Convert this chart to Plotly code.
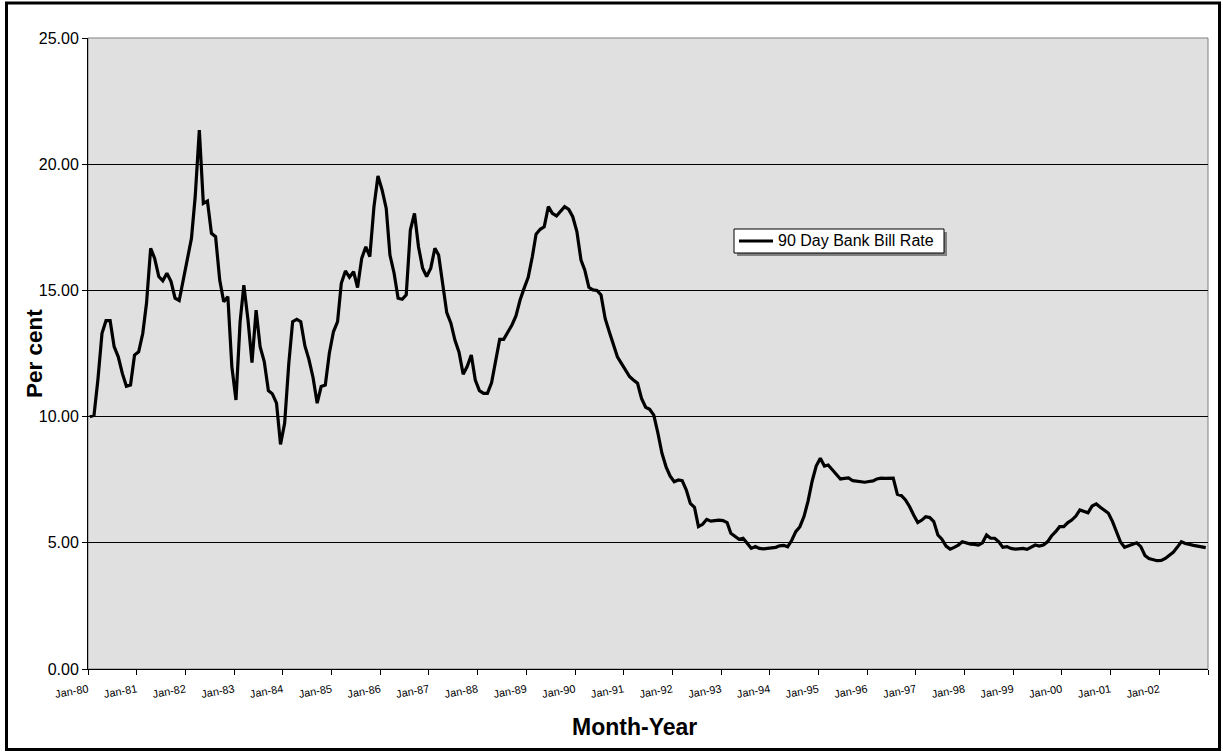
import pandas as pd
import plotly.graph_objects as go

# Monthly 90 day bank bill rate (per cent), Jan 1980 - Dec 2002
rate_1980 = [10.0, 10.05, 11.45, 13.3, 13.8, 13.8, 12.77, 12.37, 11.7, 11.2, 11.25, 12.44]
rate_1981 = [12.57, 13.3, 14.5, 16.67, 16.27, 15.55, 15.38, 15.68, 15.35, 14.69, 14.6, 15.41]
rate_1982 = [16.14, 17.06, 18.71, 21.35, 18.45, 18.54, 17.26, 17.13, 15.41, 14.55, 14.75, 11.98]
rate_1983 = [10.66, 13.76, 15.21, 13.83, 12.14, 14.22, 12.77, 12.18, 11.03, 10.9, 10.53, 8.9]
rate_1984 = [9.73, 12.1, 13.76, 13.85, 13.76, 12.8, 12.27, 11.55, 10.53, 11.19, 11.25, 12.5]
rate_1985 = [13.36, 13.76, 15.28, 15.77, 15.52, 15.74, 15.11, 16.27, 16.73, 16.34, 18.32, 19.53]
rate_1986 = [18.98, 18.25, 16.4, 15.68, 14.69, 14.65, 14.82, 17.39, 18.05, 16.73, 15.88, 15.55]
rate_1987 = [15.88, 16.67, 16.4, 15.15, 14.12, 13.7, 13.03, 12.55, 11.68, 11.98, 12.44, 11.45]
rate_1988 = [11.03, 10.92, 10.92, 11.34, 12.24, 13.06, 13.06, 13.33, 13.63, 13.99, 14.62, 15.08]
rate_1989 = [15.52, 16.34, 17.23, 17.42, 17.52, 18.32, 18.05, 17.95, 18.12, 18.32, 18.21, 17.92]
rate_1990 = [17.33, 16.2, 15.81, 15.12, 15.02, 15.0, 14.82, 13.89, 13.36, 12.9, 12.37, 12.11]
rate_1991 = [11.85, 11.58, 11.45, 11.32, 10.72, 10.37, 10.29, 10.06, 9.34, 8.55, 8.01, 7.65]
rate_1992 = [7.42, 7.49, 7.46, 7.09, 6.56, 6.41, 5.64, 5.73, 5.93, 5.86, 5.88, 5.9]
rate_1993 = [5.88, 5.8, 5.38, 5.24, 5.14, 5.18, 5.0, 4.78, 4.85, 4.78, 4.76, 4.78]
rate_1994 = [4.77, 4.82, 4.88, 4.9, 4.84, 5.1, 5.44, 5.64, 6.05, 6.65, 7.45, 8.04]
rate_1995 = [8.35, 8.04, 8.08, 7.88, 7.69, 7.53, 7.55, 7.57, 7.46, 7.44, 7.41, 7.4]
rate_1996 = [7.43, 7.45, 7.53, 7.56, 7.55, 7.56, 7.56, 6.92, 6.87, 6.7, 6.43, 6.1]
rate_1997 = [5.8, 5.9, 6.03, 6.0, 5.84, 5.31, 5.14, 4.87, 4.75, 4.82, 4.91, 5.04]
rate_1998 = [4.98, 4.95, 4.94, 4.91, 5.0, 5.31, 5.18, 5.18, 5.04, 4.82, 4.85, 4.78]
rate_1999 = [4.75, 4.75, 4.78, 4.74, 4.82, 4.91, 4.87, 4.91, 5.04, 5.27, 5.44, 5.64]
rate_2000 = [5.64, 5.8, 5.9, 6.06, 6.3, 6.23, 6.19, 6.46, 6.54, 6.41, 6.3, 6.17]
rate_2001 = [5.84, 5.4, 5.04, 4.82, 4.87, 4.95, 5.0, 4.85, 4.5, 4.38, 4.33, 4.29]
rate_2002 = [4.3, 4.38, 4.5, 4.62, 4.82, 5.04, 4.97, 4.92, 4.9, 4.87, 4.85, 4.81]

series_name = "90 Day Bank Bill Rate"
tick_years = list(range(1980, 2004))
tick_labels = [f"Jan-{y % 100:02d}" for y in range(1980, 2003)] + [""]
y_ticks = [0, 5, 10, 15, 20, 25]

rates = (rate_1980 + rate_1981 + rate_1982 + rate_1983 + rate_1984 + rate_1985
         + rate_1986 + rate_1987 + rate_1988 + rate_1989 + rate_1990 + rate_1991
         + rate_1992 + rate_1993 + rate_1994 + rate_1995 + rate_1996 + rate_1997
         + rate_1998 + rate_1999 + rate_2000 + rate_2001 + rate_2002)

# each observation sits in the middle of its month
months = pd.date_range("1980-01-01", periods=len(rates), freq="MS") + pd.Timedelta(days=14)

FONT = "Liberation Sans, Arial, sans-serif"
LINE_W = 3.2

fig = go.Figure()
fig.add_trace(go.Scatter(
    x=months, y=rates, mode="lines", name=series_name, showlegend=False,
    line=dict(color="black", width=LINE_W),
))

# plot area geometry in pixels
L, R, T, B = 88, 1208, 38, 669
W, H = R - L, B - T


def px(x):
    return (x - L) / W


def py(y):
    return (B - y) / H


# legend box (drawn as a boxed key with a drop shadow)
LG_X0, LG_X1, LG_Y0, LG_Y1 = 734, 944, 229, 253
LG_MID = (LG_Y0 + LG_Y1) / 2

fig.update_layout(
    width=1223, height=753,
    margin=dict(l=L, r=1223 - R, t=T, b=753 - B),
    paper_bgcolor="white",
    plot_bgcolor="#E0E0E0",
    font=dict(family=FONT, color="black"),
    xaxis=dict(
        type="date",
        range=["1980-01-01", "2003-01-01"],
        tickmode="array",
        tickvals=[f"{y}-01-01" for y in tick_years],
        ticktext=tick_labels,
        tickangle=-10,
        tickfont=dict(family=FONT, size=11, color="black"),
        ticks="outside", ticklen=5, tickcolor="black", tickwidth=1,
        ticklabelstandoff=4,
        showline=True, linecolor="black", linewidth=1,
        showgrid=False, zeroline=False,
    ),
    yaxis=dict(
        range=[0, 25],
        tickmode="array",
        tickvals=y_ticks,
        tickformat=".2f",
        tickfont=dict(family=FONT, size=16, color="black"),
        ticks="outside", ticklen=5, tickcolor="black", tickwidth=1,
        showline=True, linecolor="black", linewidth=1,
        showgrid=True, gridcolor="black", gridwidth=1,
        zeroline=False,
    ),
    shapes=[
        # grey border of the plot area
        dict(type="rect", xref="paper", yref="paper", x0=0, y0=0, x1=1, y1=1,
             line=dict(color="#808080", width=1), layer="below"),
        # legend shadow, box and line key
        dict(type="rect", xref="paper", yref="paper",
             x0=px(LG_X0 + 3), x1=px(LG_X1 + 3), y0=py(LG_Y1 + 3), y1=py(LG_Y0 + 3),
             fillcolor="#808080", line=dict(width=0), layer="above"),
        dict(type="rect", xref="paper", yref="paper",
             x0=px(LG_X0), x1=px(LG_X1), y0=py(LG_Y1), y1=py(LG_Y0),
             fillcolor="white", line=dict(color="black", width=1), layer="above"),
        dict(type="line", xref="paper", yref="paper",
             x0=px(739), x1=px(773), y0=py(LG_MID), y1=py(LG_MID),
             line=dict(color="black", width=LINE_W), layer="above"),
        # outer chart frame
        dict(type="rect", xref="paper", yref="paper",
             x0=px(6.5), x1=px(1219.5), y0=py(749.5), y1=py(3),
             line=dict(color="black", width=3), layer="above"),
    ],
    annotations=[
        dict(text=series_name, xref="paper", yref="paper",
             x=px(776), y=py(LG_MID), xanchor="left", yanchor="middle",
             showarrow=False, font=dict(family=FONT, size=16, color="black")),
        dict(text="<b>Per cent</b>", textangle=-90, xref="paper", yref="paper",
             x=px(34.5), y=0.5, xanchor="center", yanchor="middle",
             showarrow=False, font=dict(family=FONT, size=22.5, color="black")),
        dict(text="<b>Month-Year</b>", xref="paper", yref="paper",
             x=px(634), y=py(727), xanchor="center", yanchor="middle",
             showarrow=False, font=dict(family=FONT, size=23, color="black")),
    ],
)

fig.write_html("out.html")
